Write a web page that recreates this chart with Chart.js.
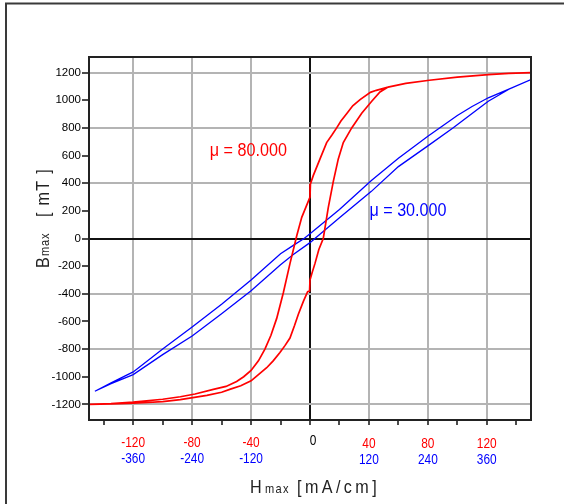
<!DOCTYPE html>
<html><head><meta charset="utf-8">
<script src="https://cdn.jsdelivr.net/npm/chart.js@4.4.1/dist/chart.umd.min.js"></script>
<style>html,body{margin:0;padding:0;background:#fff;}canvas{display:block;}</style>
</head><body>
<canvas id="c" width="564" height="504"></canvas>
<script>
// ---- Data (H in mA/cm, B in mT) ----
// mu = 80.000 loop (red, H on the red scale)
const redDownH = [150, 135, 121, 100, 81, 65, 53, 45, 41, 34, 29, 25, 21, 18.1, 15, 11.3, 6.8, 2.2, 0.3, 0, -5.6, -9, -13.6, -18.1, -22.6, -26.5, -30.6, -35, -40, -45, -49.8, -57, -65.6, -78, -88, -100, -120, -135, -150];
const redDownB = [1200, 1195, 1186, 1168, 1145, 1122, 1095, 1072, 1057, 1005, 960, 905, 850, 800, 750, 694, 576, 455, 395, 300, 153, 20, -182, -392, -578, -700, -800, -885, -955, -1000, -1035, -1070, -1092, -1125, -1145, -1163, -1183, -1194, -1200];
const redUpH = [-150, -135, -120, -100, -88, -70, -60, -54, -47, -40, -35, -29.4, -25, -20.4, -17, -13.6, -10.5, -7.9, -4.5, -1.6, -0.3, 0, 1.5, 3.4, 6, 9, 12.4, 15.8, 19.2, 22.6, 28.3, 35.1, 41.9, 47.5, 53, 65, 81, 100, 121, 135, 150];
const redUpB = [-1200, -1197, -1192, -1180, -1165, -1135, -1112, -1090, -1065, -1030, -985, -935, -885, -825, -775, -720, -630, -548, -455, -385, -380, -300, -245, -180, -80, 0, 223, 412, 576, 694, 800, 906, 993, 1060, 1095, 1122, 1145, 1168, 1186, 1195, 1200];
// mu = 30.000 loop (blue, H on the blue scale)
const blueDownH = [450, 405, 363, 330, 300, 240, 180, 125, 60, 0, -12, -34, -60, -120, -180, -240, -300, -360, -405, -438];
const blueDownB = [1150, 1080, 1018, 955, 890, 740, 580, 420, 210, 35, 0, -50, -110, -300, -475, -640, -800, -965, -1045, -1105];
const blueUpH = [-438, -405, -360, -300, -240, -180, -120, -60, -34, 0, 10, 60, 125, 180, 240, 291, 330, 363, 405, 450];
const blueUpB = [-1105, -1050, -985, -840, -705, -545, -378, -190, -116, -30, 0, 150, 341, 520, 670, 800, 905, 993, 1080, 1150];

// ---- Ticks ----
const redTicks = [-140, -120, -100, -80, -60, -40, -20, 0, 20, 40, 60, 80, 100, 120, 140];
const redLabelTicks = [-120, -80, -40, 0, 40, 80, 120];
const blueLabelTicks = [-360, -240, -120, 120, 240, 360];
const bTicks = [-1200, -1000, -800, -600, -400, -200, 0, 200, 400, 600, 800, 1000, 1200];

const redLabel = 'μ = 80.000';
const blueLabel = 'μ = 30.000';
const xTitleMain = 'H', xTitleSub = 'max', xTitleUnit = '[mA/cm]';
const yTitleMain = 'B', yTitleSub = 'max', yTitleUnit = '[ mT ]';

const SANS = '"Liberation Sans", Arial, sans-serif';
const RED = '#ff0000', BLUE = '#0000ff';
const SX = 0.85; // horizontal squeeze of the original's narrow lettering

const pts = (xs, ys) => xs.map((x, i) => ({x: x, y: ys[i]}));

function txt(c, s, x, y, size, color, align, spacing) {
  c.save();
  c.translate(x, y);
  c.scale(SX, 1);
  c.font = size + 'px ' + SANS;
  c.fillStyle = color;
  c.textAlign = align || 'left';
  c.textBaseline = 'alphabetic';
  c.letterSpacing = (spacing || 0) + 'px';
  c.fillText(s, 0, 0);
  c.restore();
}

const decor = {
  id: 'decor',
  beforeDraw(chart) {
    const c = chart.ctx;
    c.save();
    c.fillStyle = '#fff';
    c.fillRect(0, 0, chart.width, chart.height);
    c.strokeStyle = '#3a3a3a';
    c.lineWidth = 2;
    c.beginPath();
    c.moveTo(6, 504); c.lineTo(6, 3.5); c.lineTo(564, 3.5);
    c.stroke();
    c.restore();
  },
  afterDatasetsDraw(chart) {
    const c = chart.ctx, a = chart.chartArea;
    c.save();
    c.strokeStyle = '#222';
    c.lineWidth = 2;
    c.strokeRect(Math.round(a.left), Math.round(a.top), Math.round(a.right - a.left), Math.round(a.bottom - a.top));
    c.restore();
  },
  afterDraw(chart) {
    const c = chart.ctx, a = chart.chartArea, s = chart.scales;
    // series labels
    txt(c, redLabel, s.x.getPixelForValue(-68), s.y.getPixelForValue(597), 19, RED);
    txt(c, blueLabel, s.x2.getPixelForValue(121), s.y.getPixelForValue(161), 19, BLUE);
    // x tick labels, two rows
    redLabelTicks.forEach(v => {
      const px = s.x.getPixelForValue(v);
      if (v === 0) txt(c, '0', px + 3, 445, 14, '#000', 'center');
      else txt(c, String(v), px, v < 0 ? 447 : 448, 14, RED, 'center');
    });
    blueLabelTicks.forEach(v => {
      txt(c, String(v), s.x2.getPixelForValue(v), v < 0 ? 463 : 464, 14, BLUE, 'center');
    });
    // x title
    const cx = (a.left + a.right) / 2;
    txt(c, xTitleMain, cx - 60, 493, 19, '#222');
    txt(c, xTitleSub, cx - 45, 493, 13, '#222', 'left', 1.5);
    txt(c, xTitleUnit, cx - 13, 493, 19, '#222', 'left', 4);
    // y title (rotated)
    c.save();
    c.translate(48.5, 268);
    c.rotate(-Math.PI / 2);
    txt(c, yTitleMain, 0, 0, 19, '#222');
    txt(c, yTitleSub, 12, 0, 13, '#222', 'left', 1);
    txt(c, yTitleUnit, 51, 0, 19, '#222', 'left', 1.5);
    c.restore();
  }
};

new Chart(document.getElementById('c'), {
  type: 'scatter',
  data: {
    datasets: [
      {data: pts(redDownH, redDownB).concat(pts(redUpH, redUpB)), borderColor: RED, borderWidth: 1.7,
       showLine: true, pointRadius: 0, xAxisID: 'x', yAxisID: 'y'},
      {data: pts(blueDownH, blueDownB).concat(pts(blueUpH, blueUpB)), borderColor: BLUE, borderWidth: 1.3,
       showLine: true, pointRadius: 0, xAxisID: 'x2', yAxisID: 'y'}
    ]
  },
  options: {
    responsive: false, animation: false, events: [],
    layout: {padding: {left: 0, top: 57, right: 33, bottom: 54}},
    plugins: {legend: {display: false}, tooltip: {enabled: false}},
    scales: {
      x: {
        type: 'linear', position: 'bottom', min: -150, max: 150,
        afterBuildTicks: ax => { ax.ticks = redTicks.map(v => ({value: v})); },
        afterFit: ax => { ax.height = 30; },
        border: {display: false},
        grid: {
          color: ctx => ctx.tick.value === 0 ? '#111' : (ctx.tick.value % 40 === 0 ? '#b4b4b4' : 'rgba(0,0,0,0)'),
          lineWidth: 2, tickLength: 5, tickColor: '#111', tickWidth: 1.5
        },
        ticks: {display: false}
      },
      x2: {
        type: 'linear', position: 'bottom', min: -450, max: 450, display: false
      },
      y: {
        type: 'linear', position: 'left', min: -1313, max: 1313,
        afterBuildTicks: ax => { ax.ticks = bTicks.map(v => ({value: v})); },
        afterFit: ax => { ax.width = 89; },
        border: {display: false},
        grid: {
          color: ctx => ctx.tick.value === 0 ? '#111' : (ctx.tick.value % 400 === 0 ? '#b4b4b4' : 'rgba(0,0,0,0)'),
          lineWidth: 2, tickLength: 7, tickColor: '#111', tickWidth: 1.5
        },
        ticks: {
          padding: 1, autoSkip: false, color: '#000',
          font: {family: SANS, size: 11.5},
          callback: v => String(v)
        }
      }
    }
  },
  plugins: [decor]
});
</script>
</body></html>
